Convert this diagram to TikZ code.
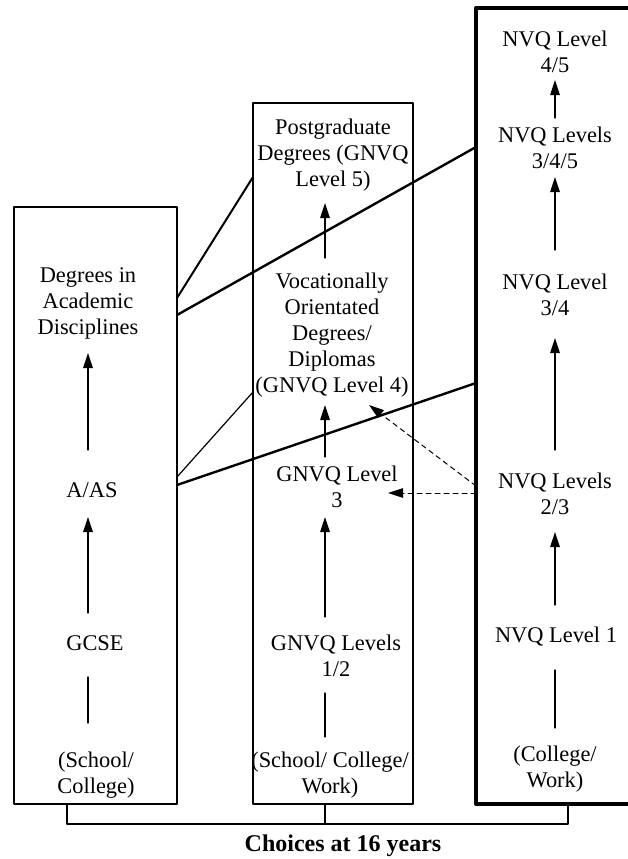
\documentclass[tikz,border=0pt]{standalone}
\usepackage{fontspec}
\setmainfont{Liberation Serif}
\usetikzlibrary{arrows.meta,calc}

\begin{document}
\begin{tikzpicture}[line cap=round,line join=round,x=1pt,y=-1pt,
    >={Triangle[length=15pt,width=9.5pt]},
    lvl/.style={align=center,inner sep=0pt,font=\fontsize{22.4}{26}\selectfont},
    colbox/.style={draw,rectangle,inner sep=0pt,outer sep=0pt},
    rise/.style={->,line width=1.2pt},
    tie/.style={line width=1.2pt},
    bridge/.style={line width=2.4pt},
    hint/.style={->,line width=1pt,dash pattern=on 5pt off 4pt}]
    \path[use as bounding box,fill=white] (0,0) rectangle (627,859);

    % the three routes
    \node[colbox,line width=1.3pt,minimum width=163pt,minimum height=597pt] (lbox) at (95.5,505.5) {};
    \node[colbox,line width=2pt,minimum width=160pt,minimum height=701pt] (mbox) at (333,453.5) {};
    \node[colbox,line width=4pt,minimum width=160pt,minimum height=796pt] (rbox) at (556,406) {};

    % academic
    \node[lvl] (deg) at (88,303) {Degrees in\\Academic\\Disciplines};
    \node[lvl] (aas) at (92,490) {A/AS};
    \node[lvl] (gcse) at (95,643) {GCSE};
    \node[lvl] (sch1) at (96,775) {(School/\\College)};
    \draw[rise] ($(aas)+(-4,-40)$) -- ($(deg)+(0,50)$);
    \draw[rise] ($(gcse)+(-7,-30)$) -- ($(aas)+(-4,27)$);
    \draw[tie] ($(sch1)+(-8,-52)$) -- ($(gcse)+(-7,34)$);

    % GNVQ
    \node[lvl] (pg) at (333,155) {Postgraduate\\Degrees (GNVQ\\Level 5)};
    \node[lvl] (voc) at (332,335) {Vocationally\\Orientated\\Degrees/\\Diplomas\\(GNVQ Level 4)};
    \node[lvl] (gn3) at (337,487) {GNVQ Level\\3};
    \node[lvl] (gn12) at (336,656) {GNVQ Levels\\1/2};
    \node[lvl] (sch2) at (330,775) {(School/ College/\\Work)};
    \draw[rise] ($(voc)+(-7,-77)$) -- ($(pg)+(-8,48)$);
    \draw[rise] ($(gn3)+(-12,-30)$) -- ($(voc)+(-7,70)$);
    \draw[rise] ($(gn12)+(-11,-39)$) -- ($(gn3)+(-12,30)$);
    \draw[tie] ($(sch2)+(-5,-38)$) -- ($(gn12)+(-11,37)$);

    % NVQ
    \node[lvl] (n45) at (555,51.5) {NVQ Level\\4/5};
    \node[lvl] (n345) at (555,147.5) {NVQ Levels\\3/4/5};
    \node[lvl] (n34) at (555,295) {NVQ Level\\3/4};
    \node[lvl] (n23) at (555,494) {NVQ Levels\\2/3};
    \node[lvl] (n1) at (556,637) {NVQ Level 1};
    \node[lvl] (cw) at (555,769) {(College/\\Work)};
    \draw[rise] ($(n345)+(0,-29.5)$) -- ($(n45)+(0,28.5)$);
    \draw[rise] ($(n34)+(0,-45)$) -- ($(n345)+(0,29.5)$);
    \draw[rise] ($(n23)+(0,-44)$) -- ($(n34)+(0,43)$);
    \draw[rise] ($(n1)+(-1,-32)$) -- ($(n23)+(0,38)$);
    \draw[tie] ($(cw)+(0,-41)$) -- ($(n1)+(-1,33)$);

    % links between routes
    \draw[line width=2pt] ($(lbox.north east)+(0,91)$) -- ($(mbox.north west)+(0,74)$);
    \draw[bridge] ($(lbox.north east)+(0,108)$) -- ($(rbox.north west)+(0,139)$);
    \draw[tie] ($(lbox.north east)+(0,270)$) -- ($(mbox.north west)+(0,289)$);
    \draw[bridge] ($(lbox.north east)+(0,278)$) -- ($(rbox.north west)+(0,375)$);
    \draw[hint] ($(rbox.north west)+(0,485)$) -- ($(gn3)+(51,6)$);
    \draw[hint] ($(rbox.north west)+(0,478)$) -- ($(voc)+(37,70)$);

    % choices
    \draw[tie] ($(lbox.south)+(-28.5,0)$) -- ++(0,20) -| ($(rbox.south)+(12,0)$);
    \draw[tie] ($(mbox.south)+(-8,0)$) -- ++(0,20);
    \node[font=\fontsize{24}{28}\selectfont\bfseries] (choices) at (343,846) {Choices at 16 years};
\end{tikzpicture}
\end{document}
